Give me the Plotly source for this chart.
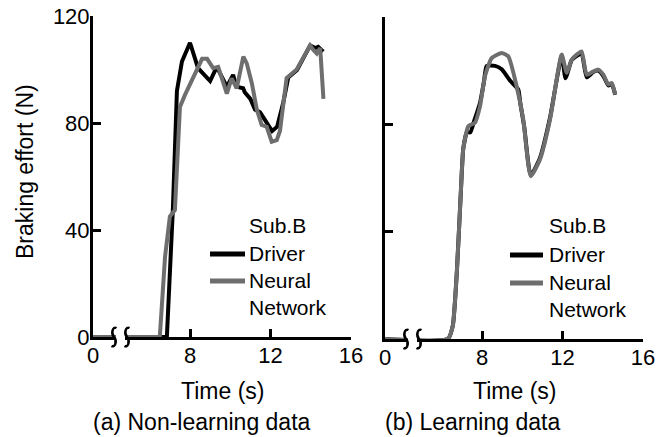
import plotly.graph_objects as go

# ---------------- data ----------------
# time axis is broken: time 0 is drawn at AXIS_ORIGIN, then a break, then real time
AXIS_ORIGIN = 3.18
X_TICK_VALUES = [AXIS_ORIGIN, 8, 12, 16]
X_TICK_LABELS = ["0", "8", "12", "16"]
Y_TICK_VALUES = [0, 40, 80, 120]
Y_TICK_LABELS = ["0", "40", "80", "120"]

# (a) Non-learning data
a_driver_t = [0, 6.85, 7.15, 7.35, 7.6, 8.0, 8.4, 9.0, 9.33, 9.58, 9.83, 10.14, 10.3,
              10.64, 10.72, 11.0, 11.23, 11.48, 11.83, 12.08, 12.33, 12.63, 12.88,
              13.32, 13.97, 14.22, 14.37, 14.62]
a_driver_v = [0, 0, 48, 92, 103, 110, 100.5, 95.7, 101, 97.3, 93.6, 98, 93.6,
              93, 91.5, 89, 85, 84, 80, 77, 78.6, 87.5, 97,
              99.8, 109, 108, 108.5, 106.7]
a_nn_t = [0, 6.5, 6.76, 7.0, 7.25, 7.5, 7.75, 8.15, 8.6, 8.85, 9.15, 9.4, 9.83, 10.07,
          10.32, 10.65, 10.82, 11.07, 11.32, 11.56, 11.81, 12.06, 12.31, 12.47, 12.8,
          13.3, 13.97, 14.13, 14.3, 14.47, 14.63]
a_nn_v = [0, 0, 30, 45, 47.5, 86, 90.5, 97, 104, 104, 100.5, 101, 91, 96.7,
          93, 104.8, 102.3, 95, 85, 79.3, 78.6, 73, 73.6, 77, 96.8,
          100, 109, 107.3, 106, 108, 89]

# (b) Learning data
b_driver_t = [0, 6.3, 6.55, 6.75, 6.95, 7.07, 7.25, 7.42, 7.6, 7.9, 8.1, 8.23, 8.65,
              8.98, 9.39, 9.8, 9.9, 10.1, 10.42, 10.88, 11.38, 11.96, 12.15, 12.46,
              12.71, 12.95, 13.2, 13.53, 13.78, 14.03, 14.28, 14.45, 14.62]
b_driver_v = [0, 0, 5, 25, 55, 71, 77, 77, 81, 88, 96, 101.7, 101.8,
              100.5, 96.3, 93, 88, 79, 61, 67.5, 82.5, 105.5, 97.2, 104,
              105.5, 106.5, 97.5, 99.5, 100, 98, 94.5, 95, 91]
b_nn_t = [0, 6.3, 6.55, 6.75, 6.95, 7.07, 7.32, 7.65, 7.9, 8.15, 8.48, 8.98, 9.31,
          9.72, 10.05, 10.42, 10.88, 11.38, 11.96, 12.21, 12.46, 12.71, 12.95, 13.2,
          13.53, 13.78, 14.03, 14.28, 14.45, 14.62]
b_nn_v = [0, 0, 5, 25, 55, 71, 79.3, 80.6, 86.7, 98, 104.7, 106.6, 105.3,
          94.2, 81.8, 60.7, 66.9, 81.8, 106, 99.2, 104.1, 106, 107.2, 98.5,
          99.7, 100.4, 98.5, 94.8, 95.4, 91.1]

DRIVER_NAME = "Driver"
NN_NAME = "Neural<br>Network"
LEGEND_TITLE = "Sub.B"
CAPTIONS = ["(a) Non-learning data", "(b) Learning data"]
X_TITLE = "Time (s)"
Y_TITLE = "Braking effort (N)"

# ---------------- styling ----------------
FONT = "Liberation Sans, Arial, Helvetica, sans-serif"
BLACK = "#000000"
GRAY = "#6e6e6e"
W, H = 667, 437
LEG_SIZE = 21


def disp(ts):
    return [AXIS_ORIGIN if t < AXIS_ORIGIN else t for t in ts]


fig = go.Figure()
fig.add_trace(go.Scatter(x=disp(a_driver_t), y=a_driver_v, mode="lines", name=DRIVER_NAME,
                         line=dict(color=BLACK, width=4), xaxis="x", yaxis="y",
                         showlegend=False))
fig.add_trace(go.Scatter(x=disp(a_nn_t), y=a_nn_v, mode="lines", name=NN_NAME,
                         line=dict(color=GRAY, width=4), xaxis="x", yaxis="y",
                         showlegend=False))
fig.add_trace(go.Scatter(x=disp(b_driver_t), y=b_driver_v, mode="lines", name=DRIVER_NAME,
                         line=dict(color=BLACK, width=4, shape="spline", smoothing=0.5),
                         xaxis="x2", yaxis="y2", showlegend=False))
fig.add_trace(go.Scatter(x=disp(b_nn_t), y=b_nn_v, mode="lines", name=NN_NAME,
                         line=dict(color=GRAY, width=4, shape="spline", smoothing=0.5),
                         xaxis="x2", yaxis="y2", showlegend=False))

axis_common = dict(showline=True, linecolor=BLACK, linewidth=3, ticks="inside",
                   ticklen=8, tickwidth=2.5, tickcolor=BLACK, showgrid=False,
                   zeroline=False, automargin=False,
                   tickfont=dict(family=FONT, size=22, color=BLACK))
xa = dict(axis_common, range=[AXIS_ORIGIN, 16], tickvals=X_TICK_VALUES,
          ticktext=X_TICK_LABELS, ticklabelstandoff=-3)
ya = dict(axis_common, range=[0, 120], tickvals=Y_TICK_VALUES, ticktext=Y_TICK_LABELS,
          ticklabelstandoff=-4)

xdom1 = [93 / W, 351 / W]
xdom2 = [385 / W, 643 / W]
ydom1 = [1 - 337 / H, 1 - 16 / H]
ydom2 = [1 - 339 / H, 1 - 17 / H]

fig.update_layout(
    width=W, height=H, margin=dict(l=0, r=0, t=0, b=0, autoexpand=False),
    paper_bgcolor="white", plot_bgcolor="white",
    font=dict(family=FONT, color=BLACK),
    xaxis=dict(xa, domain=xdom1, anchor="y"),
    yaxis=dict(ya, domain=ydom1, anchor="x"),
    xaxis2=dict(xa, domain=xdom2, anchor="y2"),
    yaxis2=dict(ya, domain=ydom2, anchor="x2", showticklabels=False),
    showlegend=False,
)

# axis-break marks
SQUIGGLE = "M 2.5 9 C -1 11, -3.5 4, 0 0 C 3.5 -4, 1 -11, -2.5 -9"
GAP = "M 2 -6 L 11 -6 L 11 5 L 2 5 Z"
span = 16 - AXIS_ORIGIN
for xr, yr in [("x domain", "y domain"), ("x2 domain", "y2 domain")]:
    b1 = 21 / 20.125 / span
    b2 = 34 / 20.125 / span
    fig.add_shape(type="path", xref=xr, yref=yr, xsizemode="pixel", ysizemode="pixel",
                  xanchor=b1, yanchor=0, path=GAP, fillcolor="white",
                  line=dict(width=0), layer="above")
    for b in (b1, b2):
        fig.add_shape(type="path", xref=xr, yref=yr, xsizemode="pixel", ysizemode="pixel",
                      xanchor=b, yanchor=0, path=SQUIGGLE,
                      line=dict(color=BLACK, width=2.5), layer="above")

ann_font = dict(family=FONT, size=23, color=BLACK)
leg_font = dict(family=FONT, size=LEG_SIZE, color=BLACK)
fig.add_annotation(text=Y_TITLE, x=25 / W, y=1 - 172 / H, xref="paper", yref="paper",
                   textangle=-90, showarrow=False, font=ann_font,
                   xanchor="center", yanchor="middle")
for cx, lx, cap in [(222, 91, CAPTIONS[0]), (514, 383, CAPTIONS[1])]:
    fig.add_annotation(text=X_TITLE, x=cx / W, y=1 - 391 / H, xref="paper", yref="paper",
                       showarrow=False, font=ann_font, xanchor="center", yanchor="middle")
    fig.add_annotation(text=cap, x=lx / W, y=1 - 422 / H, xref="paper", yref="paper",
                       showarrow=False, font=ann_font, xanchor="left", yanchor="middle")

# hand-placed legends (one per panel): sample line + label
# (line x0, line x1, text x, title y, driver y, nn y)
for lx0, lx1, tx, ty, dy, ny in [(210, 245, 247, 225, 254, 281),
                                  (510, 543, 547, 225, 255, 283)]:
    fig.add_annotation(text=LEGEND_TITLE, x=tx / W, y=1 - ty / H, xref="paper", yref="paper",
                       showarrow=False, font=leg_font, xanchor="left", yanchor="middle")
    for color, yy, name in [(BLACK, dy, DRIVER_NAME), (GRAY, ny, NN_NAME)]:
        fig.add_shape(type="line", xref="paper", yref="paper",
                      x0=lx0 / W, x1=lx1 / W, y0=1 - yy / H, y1=1 - yy / H,
                      line=dict(color=color, width=5))
        fig.add_annotation(text=name, x=tx / W, y=1 - (yy - 14) / H,
                           xref="paper", yref="paper", showarrow=False, font=leg_font,
                           xanchor="left", yanchor="top", align="left")

fig.write_html("out.html", config={"displayModeBar": False},
               post_script="document.body.style.margin='0';document.body.style.padding='0';"
                           "document.body.style.overflow='hidden';")
